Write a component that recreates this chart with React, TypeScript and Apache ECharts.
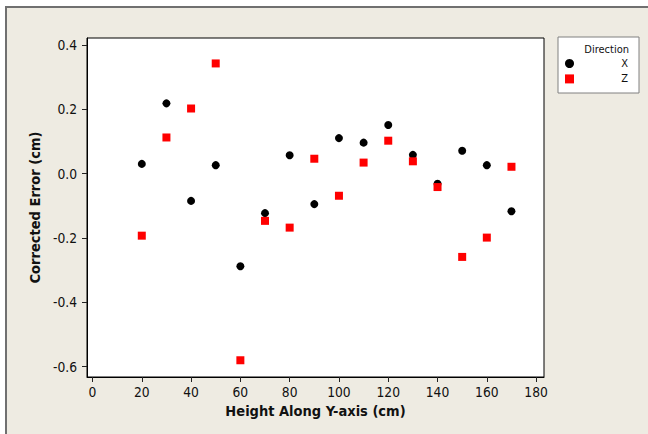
import React, { useEffect, useRef } from "react";
import * as echarts from "echarts";

const heights = [20, 30, 40, 50, 60, 70, 80, 90, 100, 110, 120, 130, 140, 150, 160, 170];
const errX = [0.03, 0.218, -0.085, 0.026, -0.288, -0.123, 0.057, -0.095, 0.11, 0.096, 0.151, 0.058, -0.032, 0.071, 0.026, -0.117];
const errZ = [-0.193, 0.112, 0.202, 0.342, -0.58, -0.147, -0.168, 0.046, -0.069, 0.034, 0.102, 0.038, -0.042, -0.259, -0.199, 0.021];
const xTicks = [0, 20, 40, 60, 80, 100, 120, 140, 160, 180];
const yTicks = [-0.6, -0.4, -0.2, 0.0, 0.2, 0.4];
const seriesNames = ["X", "Z"];
const FONT = "'DejaVu Sans Condensed', 'DejaVu Sans', sans-serif";

export default function App() {
  const ref = useRef<HTMLDivElement>(null);
  useEffect(() => {
    if (!ref.current) return;
    const chart = echarts.init(ref.current, undefined, { renderer: "svg" });
    const option = {
      animation: false,
      backgroundColor: "#ffffff",
      textStyle: { fontFamily: FONT },
      graphic: [
        {
          type: "rect",
          z: -10,
          shape: { x: 6, y: 7, width: 700, height: 500 },
          style: { fill: "#EEEBE2", stroke: "#707070", lineWidth: 2 },
        },
        {
          type: "rect",
          z: 5,
          shape: { x: 558, y: 37, width: 81, height: 56 },
          style: { fill: "#ffffff", stroke: "#808080", lineWidth: 1 },
        },
        {
          type: "text",
          z: 6,
          x: 629,
          y: 49,
          style: {
            text: "Direction",
            fill: "#111",
            font: `11px ${FONT}`,
            align: "right",
            verticalAlign: "middle",
          },
        },
      ],
      legend: {
        data: seriesNames,
        orient: "vertical",
        left: 565,
        top: 58,
        padding: 0,
        itemWidth: 9,
        itemHeight: 9,
        itemGap: 4.4,
        z: 10,
        formatter: (n: string) => `{a|${n}}`,
        textStyle: {
          fontFamily: FONT,
          fontSize: 11,
          color: "#111",
          rich: { a: { width: 49, align: "right", lineHeight: 12, fontSize: 11, fontFamily: FONT } },
        },
      },
      grid: {
        left: 87,
        right: 104,
        top: 38,
        bottom: 57,
        show: true,
        backgroundColor: "#ffffff",
        borderColor: "#000",
        borderWidth: 1,
      },
      xAxis: {
        type: "value",
        min: -2.23,
        max: 183.2,
        name: "Height Along Y-axis (cm)",
        nameLocation: "middle",
        nameGap: 26,
        nameTextStyle: { fontFamily: FONT, fontSize: 14.5, fontWeight: "bold", color: "#111" },
        axisLine: { show: true, onZero: false, lineStyle: { color: "#000" } },
        axisTick: { show: true, length: 5, lineStyle: { color: "#222" }, customValues: xTicks },
        axisLabel: {
          customValues: xTicks,
          fontFamily: FONT,
          fontSize: 13.7,
          color: "#111",
          margin: 7.5,
        },
        splitLine: { show: false },
      },
      yAxis: {
        type: "value",
        min: -0.632,
        max: 0.421,
        name: "Corrected Error (cm)",
        nameLocation: "middle",
        nameGap: 43,
        nameTextStyle: { fontFamily: FONT, fontSize: 14.5, fontWeight: "bold", color: "#111" },
        axisLine: { show: true, onZero: false, lineStyle: { color: "#000" } },
        axisTick: { show: true, length: 5, lineStyle: { color: "#222" }, customValues: yTicks },
        axisLabel: {
          customValues: yTicks,
          fontFamily: FONT,
          fontSize: 13.7,
          color: "#111",
          margin: 10,
          formatter: (v: number) => v.toFixed(1),
        },
        splitLine: { show: false },
      },
      series: [
        {
          name: seriesNames[0],
          type: "scatter",
          symbol: "circle",
          symbolSize: 8,
          itemStyle: { color: "#000000", opacity: 1 },
          data: heights.map((h, i) => [h, errX[i]]),
        },
        {
          name: seriesNames[1],
          type: "scatter",
          symbol: "rect",
          symbolSize: 8,
          itemStyle: { color: "#FF0000", opacity: 1 },
          data: heights.map((h, i) => [h, errZ[i]]),
        },
      ],
    };
    chart.setOption(option as any);
    return () => chart.dispose();
  }, []);
  return (
    <div
      ref={ref}
      style={{ position: "fixed", left: 0, top: 0, width: 648, height: 434 }}
    />
  );
}
